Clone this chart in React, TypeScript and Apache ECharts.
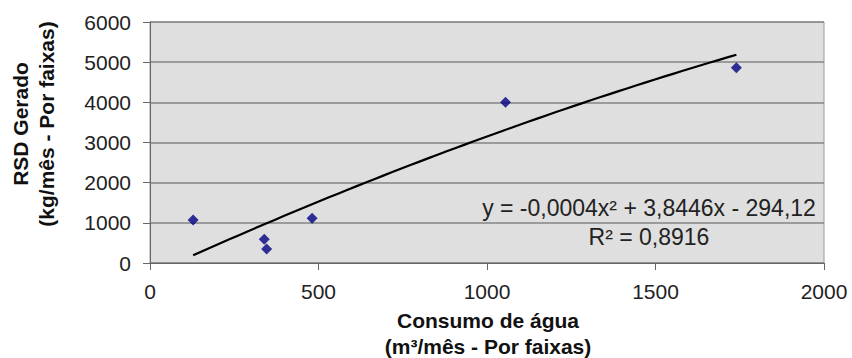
import React, { useEffect, useRef } from "react";
import * as echarts from "echarts";

// Data
const consumoAgua = [128, 339, 346, 481, 1055, 1740];
const rsdGerado = [1070, 590, 349, 1112, 4000, 4862];

// Trendline (polynomial, order 2) as stated on the chart
const trendCoef = [-0.0004, 3.8446, -294.12]; // a, b, c
const trendLabel = ["y = -0,0004x² + 3,8446x - 294,12", "R² = 0,8916"];

const xTicks = { min: 0, max: 2000, interval: 500 };
const yTicks = { min: 0, max: 6000, interval: 1000 };

const xTitle = "Consumo de água\n(m³/mês - Por faixas)";
const yTitle = "RSD Gerado\n(kg/mês - Por faixas)";

const FONT = "'Liberation Sans', Arial, Helvetica, sans-serif";

export default function App() {
  const ref = useRef<HTMLDivElement>(null);
  useEffect(() => {
    if (!ref.current) return;
    const chart = echarts.init(ref.current, null, { renderer: "svg" });
    const xMin = Math.min(...consumoAgua);
    const xMax = Math.max(...consumoAgua);
    const trend: number[][] = [];
    const steps = 60;
    for (let i = 0; i <= steps; i++) {
      const x = xMin + ((xMax - xMin) * i) / steps;
      trend.push([x, trendCoef[0] * x * x + trendCoef[1] * x + trendCoef[2]]);
    }
    chart.setOption({
      animation: false,
      backgroundColor: "#ffffff",
      textStyle: { fontFamily: FONT },
      grid: {
        left: 150,
        right: 28,
        top: 22,
        bottom: 95,
        show: true,
        backgroundColor: "#dfdfdf",
        borderColor: "#9a9a9a",
        borderWidth: 1,
      },
      xAxis: {
        type: "value",
        min: xTicks.min,
        max: xTicks.max,
        interval: xTicks.interval,
        axisLine: { show: true, lineStyle: { color: "#666", width: 1 } },
        axisTick: { show: true, inside: false, length: 7, lineStyle: { color: "#666" } },
        axisLabel: {
          color: "#222",
          fontSize: 21,
          margin: 18,
          fontFamily: FONT,
          formatter: (v: number) => String(v),
        },
        splitLine: { show: false },
      },
      yAxis: {
        type: "value",
        min: yTicks.min,
        max: yTicks.max,
        interval: yTicks.interval,
        axisLine: { show: true, lineStyle: { color: "#666", width: 1 } },
        axisTick: { show: true, inside: false, length: 7, lineStyle: { color: "#666" } },
        axisLabel: {
          color: "#222",
          fontSize: 21,
          margin: 19,
          fontFamily: FONT,
          formatter: (v: number) => String(v),
        },
        splitLine: { show: true, lineStyle: { color: "#858585", width: 1.5 } },
      },
      series: [
        {
          type: "line",
          data: trend,
          showSymbol: false,
          symbol: "none",
          smooth: false,
          lineStyle: { color: "#000", width: 2.2 },
          z: 2,
        },
        {
          type: "scatter",
          data: consumoAgua.map((x, i) => [x, rsdGerado[i]]),
          symbol: "diamond",
          symbolSize: 11,
          itemStyle: { color: "#000080" },
          z: 3,
        },
      ],
      graphic: [
        {
          type: "text",
          x: 649,
          y: 208,
          style: {
            text: trendLabel[0],
            font: `23px ${FONT}`,
            fill: "#222",
            align: "center",
            verticalAlign: "middle",
          },
          z: 10,
        },
        {
          type: "text",
          x: 649,
          y: 237,
          style: {
            text: trendLabel[1],
            font: `23px ${FONT}`,
            fill: "#222",
            align: "center",
            verticalAlign: "middle",
          },
          z: 10,
        },
        {
          type: "text",
          x: 33,
          y: 124,
          rotation: Math.PI / 2,
          style: {
            text: yTitle,
            font: `bold 21px ${FONT}`,
            fill: "#111",
            align: "center",
            verticalAlign: "middle",
            lineHeight: 26,
          },
        },
        {
          type: "text",
          x: 488,
          y: 333,
          style: {
            text: xTitle,
            font: `bold 21px ${FONT}`,
            fill: "#111",
            align: "center",
            verticalAlign: "middle",
            lineHeight: 26,
          },
        },
      ],
    });
    return () => chart.dispose();
  }, []);
  return (
    <div
      ref={ref}
      style={{ position: "fixed", left: 0, top: 0, width: 852, height: 358, background: "#fff" }}
    />
  );
}
